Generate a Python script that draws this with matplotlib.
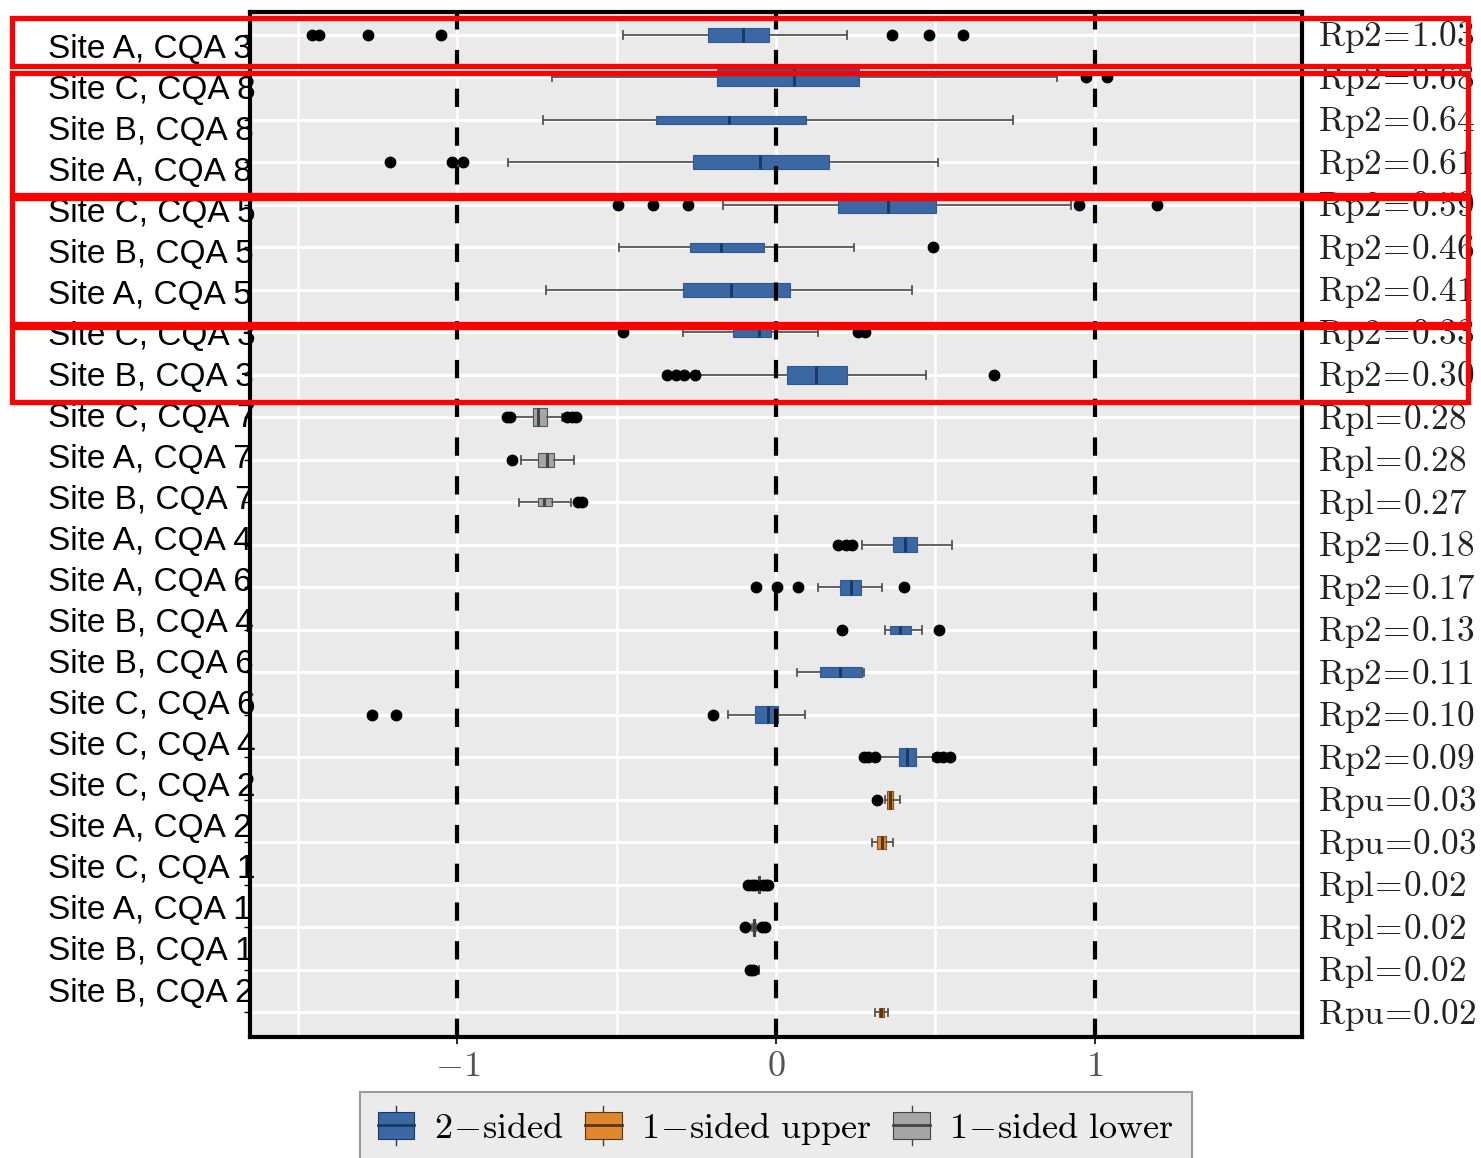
import numpy as np
import matplotlib.pyplot as plt
import matplotlib.transforms as mtransforms
from matplotlib.patches import Rectangle, Patch
from matplotlib.lines import Line2D
from matplotlib.legend_handler import HandlerBase

plt.rcParams['mathtext.fontset'] = 'cm'

# one row per site / CQA, top to bottom
row_labels = ['Site A, CQA 3', 'Site C, CQA 8', 'Site B, CQA 8', 'Site A, CQA 8',
              'Site C, CQA 5', 'Site B, CQA 5', 'Site A, CQA 5', 'Site C, CQA 3',
              'Site B, CQA 3', 'Site C, CQA 7', 'Site A, CQA 7', 'Site B, CQA 7',
              'Site A, CQA 4', 'Site A, CQA 6', 'Site B, CQA 4', 'Site B, CQA 6',
              'Site C, CQA 6', 'Site C, CQA 4', 'Site C, CQA 2', 'Site A, CQA 2',
              'Site C, CQA 1', 'Site A, CQA 1', 'Site B, CQA 1', 'Site B, CQA 2']
rp_names = ['Rp2'] * 9 + ['Rpl'] * 3 + ['Rp2'] * 6 + ['Rpu'] * 2 + ['Rpl'] * 3 + ['Rpu']
rp_values = [1.03, 0.68, 0.64, 0.61, 0.59, 0.46, 0.41, 0.33, 0.30, 0.28, 0.28, 0.27,
             0.18, 0.17, 0.13, 0.11, 0.10, 0.09, 0.03, 0.03, 0.02, 0.02, 0.02, 0.02]
# '2' = 2-sided, 'u' = 1-sided upper, 'l' = 1-sided lower
kinds = ['2'] * 9 + ['l'] * 3 + ['2'] * 6 + ['u'] * 2 + ['l'] * 3 + ['u']

whis_lo = [-0.480, -0.703, -0.732, -0.841, -0.166, -0.493, -0.722, -0.292, -0.240,
           -0.825, -0.800, -0.807, 0.270, 0.132, 0.342, 0.066, -0.151, 0.320,
           0.342, 0.301, -0.060, -0.075, -0.062, 0.310]
q1 = [-0.213, -0.185, -0.377, -0.261, 0.195, -0.270, -0.292, -0.135, 0.035,
      -0.763, -0.747, -0.747, 0.367, 0.201, 0.358, 0.138, -0.066, 0.386,
      0.348, 0.317, -0.057, -0.072, -0.060, 0.322]
med = [-0.104, 0.057, -0.148, -0.050, 0.352, -0.173, -0.141, -0.053, 0.125,
       -0.747, -0.719, -0.728, 0.405, 0.235, 0.389, 0.201, -0.025, 0.411,
       0.358, 0.333, -0.053, -0.069, -0.057, 0.330]
q3 = [-0.022, 0.261, 0.094, 0.166, 0.502, -0.038, 0.044, -0.016, 0.223,
      -0.719, -0.697, -0.703, 0.443, 0.267, 0.424, 0.270, 0.006, 0.440,
      0.367, 0.345, -0.049, -0.066, -0.055, 0.340]
whis_hi = [0.223, 0.882, 0.744, 0.509, 0.925, 0.245, 0.427, 0.132, 0.471,
           -0.670, -0.634, -0.644, 0.553, 0.333, 0.458, 0.276, 0.091, 0.493,
           0.389, 0.367, -0.046, -0.062, -0.053, 0.352]
outliers = [[-1.454, -1.435, -1.281, -1.052, 0.364, 0.480, 0.587],
            [0.973, 1.039],
            [],
            [-1.212, -1.017, -0.983],
            [-0.496, -0.386, -0.276, 0.949, 1.196],
            [0.493],
            [],
            [-0.480, 0.257, 0.279],
            [-0.342, -0.314, -0.289, -0.254, 0.684],
            [-0.845, -0.833, -0.655, -0.640, -0.628],
            [-0.829],
            [-0.622, -0.608],
            [0.195, 0.220, 0.239],
            [-0.063, 0.003, 0.069, 0.402],
            [0.207, 0.512],
            [],
            [-1.268, -1.193, -0.198],
            [0.275, 0.290, 0.310, 0.505, 0.525, 0.546],
            [0.317],
            [],
            [-0.088, -0.075, -0.066, -0.041, -0.030, -0.025],
            [-0.097, -0.044, -0.035],
            [-0.082, -0.072],
            []]
box_widths = [0.33, 0.40, 0.19, 0.33, 0.40, 0.21, 0.33, 0.22, 0.42, 0.42, 0.33, 0.19,
              0.35, 0.35, 0.19, 0.24, 0.40, 0.42, 0.42, 0.30, 0.40, 0.40, 0.20, 0.20]

x_ticks = [-1, 0, 1]
x_ticklabels = [r'$-1$', r'$0$', r'$1$']
legend_labels = [r'$\mathrm{2}\!-\!\mathrm{sided}$',
                 r'$\mathrm{1}\!-\!\mathrm{sided\ upper}$',
                 r'$\mathrm{1}\!-\!\mathrm{sided\ lower}$']

# fill, edge, median
styles = {'2': ('#3b68a3', '#2f5a91', '#1a3a66'),
          'u': ('#e0862c', '#8a5220', '#5a3512'),
          'l': ('#a5a5a5', '#555555', '#444444')}

W, H = 1481, 1158
fig = plt.figure(figsize=(W / 100, H / 100), dpi=100)
ax = fig.add_axes([250 / W, 1 - 1037 / H, 1052 / W, 1025 / H])
ax.set_facecolor('#eaeaea')

n = len(row_labels)
for i in range(n):
    fc, ec, mc = styles[kinds[i]]
    st = [dict(whislo=whis_lo[i], q1=q1[i], med=med[i], q3=q3[i],
               whishi=whis_hi[i], fliers=outliers[i])]
    ax.bxp(st, positions=[i], widths=box_widths[i], orientation='horizontal',
           patch_artist=True, capwidths=0.17, manage_ticks=False,
           boxprops=dict(facecolor=fc, edgecolor=ec, linewidth=0.8),
           medianprops=dict(color=mc, linewidth=2.2),
           whiskerprops=dict(color='#555555', linewidth=1.3),
           capprops=dict(color='#555555', linewidth=1.3),
           flierprops=dict(marker='o', markerfacecolor='black',
                           markeredgecolor='black', markersize=7.5, zorder=5))

for xv in x_ticks:
    ax.axvline(xv, color='black', lw=3, linestyle=(0, (4.4, 4.9)), zorder=4)

ax.set_xlim(-1.65, 1.65)
ax.set_ylim(n - 1 + 0.58, -0.54)
ax.set_xticks(x_ticks)
ax.set_xticklabels(x_ticklabels)
ax.set_xticks([-1.5, -0.5, 0.5, 1.5], minor=True)
ax.set_yticks(np.arange(n))
ax.set_yticklabels([])
ax.grid(axis='x', which='both', color='white', lw=1.8)
ax.grid(axis='y', color='white', lw=2.2)
ax.set_axisbelow(True)
ax.tick_params(axis='x', which='major', length=5, width=1.2, pad=4,
               labelsize=26, labelcolor='#555555')
ax.tick_params(axis='x', which='minor', length=0)
ax.tick_params(axis='y', length=4, width=1)
for sp in ax.spines.values():
    sp.set_linewidth(3)
    sp.set_color('black')

# ratio labels on the right
trans = mtransforms.blended_transform_factory(ax.transAxes, ax.transData)
for i in range(n):
    ax.text(1.0152, i + 0.06, r'$\mathrm{%s}\!=\!%.2f$' % (rp_names[i], rp_values[i]),
            transform=trans, ha='left', va='center', fontsize=25.5,
            color='#222222', clip_on=False)

# site labels on the left
label_y = np.linspace(49, 993, n)
for lab, yp in zip(row_labels, label_y):
    fig.text(48 / W, 1 - yp / H, lab, ha='left', va='center', fontsize=24,
             family='Liberation Sans', color='black')


class BoxHandler(HandlerBase):
    def create_artists(self, legend, orig_handle, xdescent, ydescent,
                       width, height, fontsize, trans):
        x0, y0 = -xdescent, -ydescent
        ec = orig_handle.get_edgecolor()
        whisk = Line2D([x0 + width / 2] * 2, [y0 - 0.25 * height, y0 + 1.25 * height],
                       color=ec, lw=1.0, transform=trans)
        box = Rectangle((x0, y0), width, height, facecolor=orig_handle.get_facecolor(),
                        edgecolor=ec, lw=0.8, transform=trans)
        mid = Line2D([x0, x0 + width], [y0 + height / 2] * 2, color=ec, lw=2.0,
                     transform=trans)
        return [whisk, box, mid]


handles = [Patch(facecolor=styles[k][0], edgecolor=styles[k][2]) for k in ['2', 'u', 'l']]
leg = fig.legend(handles, legend_labels, loc='upper center',
                 bbox_to_anchor=(776 / W, 1 - 1092 / H), ncol=3, fontsize=26,
                 frameon=True, fancybox=False, framealpha=1,
                 facecolor='#ebebeb', edgecolor='#9a9a9a',
                 handlelength=1.0, handleheight=0.75, handletextpad=0.55,
                 columnspacing=0.6, borderpad=0.5, borderaxespad=0,
                 handler_map={Patch: BoxHandler()})
leg.get_frame().set_linewidth(1.5)

# highlighted row groups
frames = [(12, 18, 1468, 65.5), (12, 73, 1468, 195), (12, 198, 1468, 324), (12, 327, 1468, 401.5)]
for x0, y0, x1, y1 in frames:
    fig.patches.append(Rectangle((x0 / W, 1 - y1 / H), (x1 - x0) / W, (y1 - y0) / H,
                                 transform=fig.transFigure, fill=False,
                                 edgecolor='#ff0000', lw=3.8, zorder=10))

fig.savefig('out.png', dpi=100)
